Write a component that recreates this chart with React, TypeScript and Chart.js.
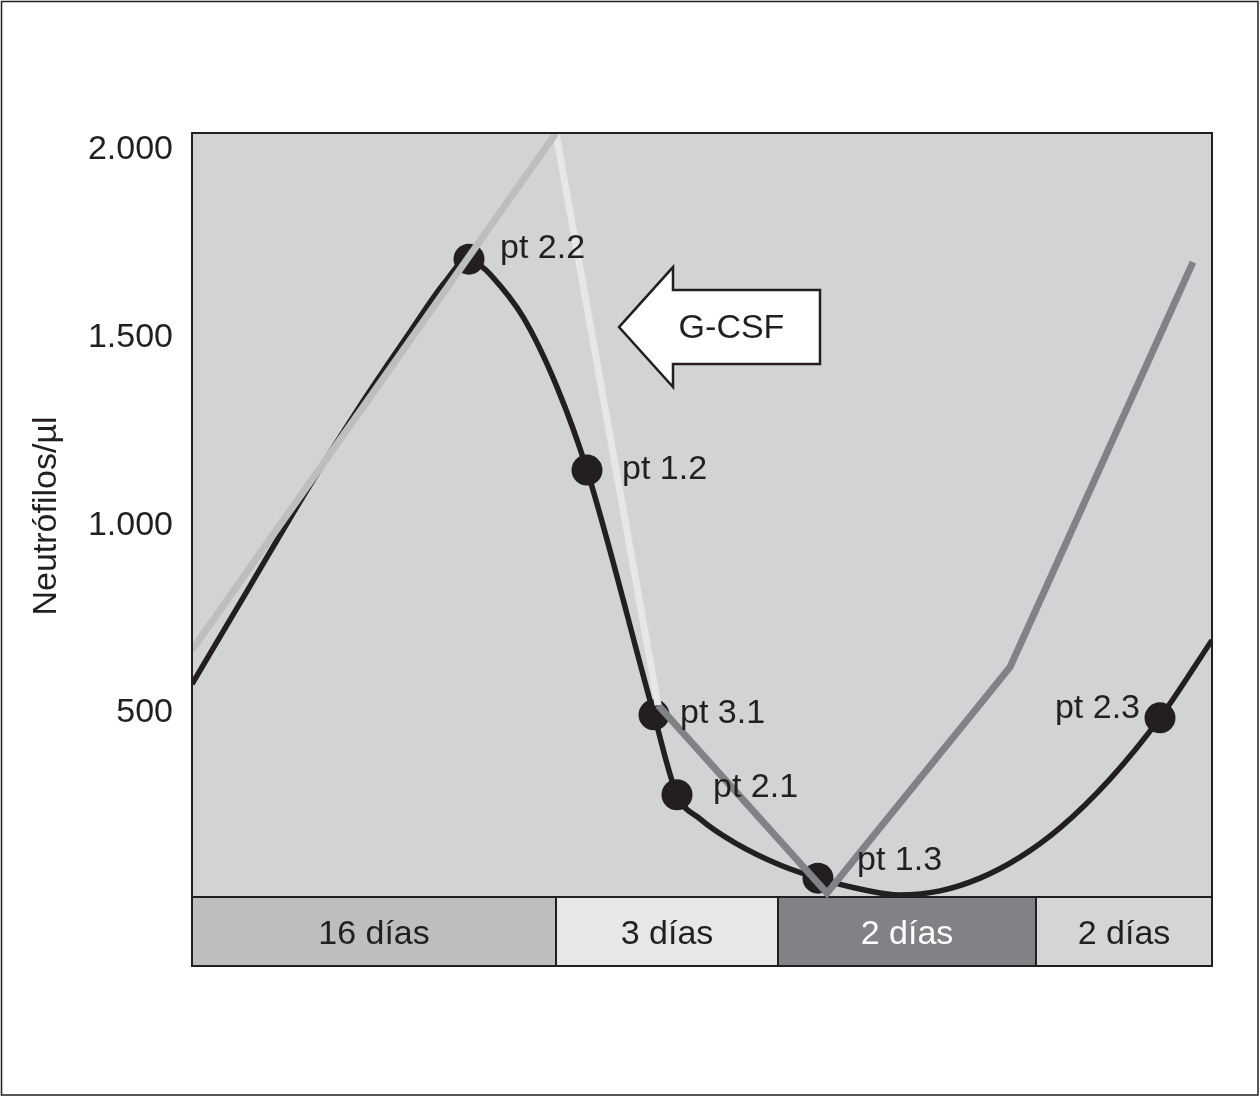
import React, { useEffect, useRef } from 'react';
import { Chart, registerables } from 'chart.js';

Chart.register(...registerables);

// ---- Data (x in arbitrary time units along the cycle, y in neutrophils/µl) ----
const yTicks = [500, 1000, 1500, 2000];

const curveX = [0, 5.8, 11.5, 16.8, 21.8, 25.3, 27.7, 28.8, 29.8, 33.1, 36.5, 39.5, 46.2, 48.5, 50.8, 54.3, 58.8, 62.6, 66.8, 70.8, 74.8, 78.8, 82.8, 86.8, 91.8, 96.8, 102];
const curveY = [577, 838, 1094, 1318, 1515, 1648, 1712, 1693, 1669, 1555, 1368, 1147, 495, 282, 218, 154, 95, 60, 31, 15, 26, 60, 116, 194, 324, 487, 694];

const phase1X = [0, 36.4];
const phase1Y = [668, 2045];
const phase2X = [36.4, 46.6];
const phase2Y = [2045, 521];
const phase3X = [46.6, 63.5, 81.8, 100.1];
const phase3Y = [521, 20, 622, 1701];

const pointLabels = ['pt 2.2', 'pt 1.2', 'pt 3.1', 'pt 2.1', 'pt 1.3', 'pt 2.3'];
const pointX = [27.7, 39.5, 46.2, 48.5, 62.6, 96.8];
const pointY = [1709, 1147, 495, 282, 60, 487];

const phaseLabels = ['16 días', '3 días', '2 días', '2 días'];
const phaseStart = [0, 36.4, 58.6, 84.4];
const phaseEnd = [36.4, 58.6, 84.4, 102];

const arrowLabel = 'G-CSF';
const arrowTipX = 42.7;
const arrowHeadX = 48.1;
const arrowEndX = 62.8;
const arrowY = 1528;

const Y_MIN = -174;
const Y_MAX = 2045;
const BASELINE = 10;
const X_MIN = 0;
const X_MAX = 102;

// ---- Styles ----
const FONT = '"Liberation Sans", Arial, Helvetica, sans-serif';
const FONT_SIZE = 34;
const INK = '#231f20';
const PLOT_BG = '#d1d3d4';
const bandColors = ['#bcbec0', '#e6e7e8', '#808285', '#d4d5d7'];
const bandText = [INK, INK, '#ffffff', INK];
const labelOffsets: [number, number, CanvasTextAlign][] = [
  [31, -11, 'left'],
  [35, 0, 'left'],
  [26, -1, 'left'],
  [36, -7, 'left'],
  [39, -18, 'left'],
  [-20, -9, 'right'],
];

const toXY = (xs: number[], ys: number[]) => xs.map((x, i) => ({ x, y: ys[i] }));
const fmt = (v: number) => String(v).replace(/\B(?=(\d{3})+(?!\d))/g, '.');

const decorPlugin = {
  id: 'decor',
  beforeDatasetsDraw(chart: any) {
    const { ctx, chartArea: ca, scales } = chart;
    const x = scales.x;
    const y = scales.y;
    const yb = y.getPixelForValue(BASELINE);
    ctx.save();
    ctx.fillStyle = PLOT_BG;
    ctx.fillRect(ca.left, ca.top, ca.right - ca.left, yb - ca.top);
    // time band
    ctx.font = `${FONT_SIZE}px ${FONT}`;
    ctx.textAlign = 'center';
    ctx.textBaseline = 'middle';
    for (let i = 0; i < phaseLabels.length; i++) {
      const x0 = x.getPixelForValue(phaseStart[i]);
      const x1 = x.getPixelForValue(phaseEnd[i]);
      ctx.fillStyle = bandColors[i];
      ctx.fillRect(x0, yb, x1 - x0, ca.bottom - yb);
      ctx.fillStyle = bandText[i];
      ctx.fillText(phaseLabels[i], (x0 + x1) / 2, (yb + ca.bottom) / 2 + 3);
    }
    ctx.strokeStyle = INK;
    ctx.lineWidth = 2;
    ctx.beginPath();
    ctx.moveTo(ca.left, yb);
    ctx.lineTo(ca.right, yb);
    for (let i = 1; i < phaseStart.length; i++) {
      const px = Math.round(x.getPixelForValue(phaseStart[i]));
      ctx.moveTo(px, yb);
      ctx.lineTo(px, ca.bottom);
    }
    ctx.stroke();
    ctx.restore();
  },
  afterDatasetsDraw(chart: any) {
    const { ctx, chartArea: ca, scales } = chart;
    const x = scales.x;
    const y = scales.y;
    ctx.save();
    // frame
    ctx.strokeStyle = INK;
    ctx.lineWidth = 2;
    ctx.strokeRect(ca.left, ca.top, ca.right - ca.left, ca.bottom - ca.top);
    // point labels
    ctx.font = `${FONT_SIZE}px ${FONT}`;
    ctx.fillStyle = INK;
    ctx.textBaseline = 'middle';
    pointLabels.forEach((t, i) => {
      const [dx, dy, al] = labelOffsets[i];
      ctx.textAlign = al;
      ctx.fillText(t, x.getPixelForValue(pointX[i]) + dx, y.getPixelForValue(pointY[i]) + dy);
    });
    // G-CSF arrow
    const tipX = x.getPixelForValue(arrowTipX);
    const headX = x.getPixelForValue(arrowHeadX);
    const endX = x.getPixelForValue(arrowEndX);
    const cy = y.getPixelForValue(arrowY);
    const headH = 60;
    const bodyH = 37;
    ctx.beginPath();
    ctx.moveTo(tipX, cy);
    ctx.lineTo(headX, cy - headH);
    ctx.lineTo(headX, cy - bodyH);
    ctx.lineTo(endX, cy - bodyH);
    ctx.lineTo(endX, cy + bodyH);
    ctx.lineTo(headX, cy + bodyH);
    ctx.lineTo(headX, cy + headH);
    ctx.closePath();
    ctx.fillStyle = '#ffffff';
    ctx.fill();
    ctx.lineWidth = 2.5;
    ctx.strokeStyle = INK;
    ctx.stroke();
    ctx.fillStyle = INK;
    ctx.textAlign = 'center';
    ctx.fillText(arrowLabel, (headX + endX) / 2 - 15, cy + 2);
    ctx.restore();
  },
  afterDraw(chart: any) {
    const { ctx, width, height } = chart;
    ctx.save();
    // y-axis title
    ctx.translate(47, 516);
    ctx.rotate(-Math.PI / 2);
    ctx.font = `${FONT_SIZE}px ${FONT}`;
    ctx.fillStyle = INK;
    ctx.textAlign = 'center';
    ctx.textBaseline = 'middle';
    ctx.fillText('Neutrófilos/µl', 0, 0);
    ctx.restore();
    ctx.save();
    ctx.strokeStyle = INK;
    ctx.lineWidth = 1.5;
    ctx.strokeRect(1.5, 1.5, width - 3.5, height - 3.5);
    ctx.restore();
  },
};

export default function App() {
  const ref = useRef<HTMLCanvasElement | null>(null);
  useEffect(() => {
    document.body.style.margin = '0';
    if (!ref.current) return;
    const chart = new Chart(ref.current, {
      type: 'scatter',
      data: {
        datasets: [
          {
            data: toXY(phase1X, phase1Y),
            showLine: true,
            borderColor: '#bcbec0',
            borderWidth: 7,
            pointRadius: 0,
            tension: 0,
          },
          {
            data: toXY(phase2X, phase2Y),
            showLine: true,
            borderColor: '#e6e7e8',
            borderWidth: 7,
            pointRadius: 0,
            tension: 0,
          },
          {
            data: toXY(phase3X, phase3Y),
            showLine: true,
            borderColor: '#808285',
            borderWidth: 7,
            pointRadius: 0,
            tension: 0,
          },
          {
            data: toXY(curveX, curveY),
            showLine: true,
            borderColor: INK,
            borderWidth: 5.5,
            pointRadius: 0,
            cubicInterpolationMode: 'monotone',
            borderJoinStyle: 'round',
          },
          {
            data: toXY(pointX, pointY),
            showLine: false,
            pointRadius: 15.5,
            pointBackgroundColor: INK,
            pointBorderWidth: 0,
            backgroundColor: INK,
          },
        ],
      },
      options: {
        animation: false,
        responsive: false,
        devicePixelRatio: 1,
        layout: { padding: { left: 0, right: 48, top: 133, bottom: 131 } },
        plugins: { legend: { display: false }, tooltip: { enabled: false } },
        events: [],
        scales: {
          x: { type: 'linear', min: X_MIN, max: X_MAX, display: false },
          y: {
            type: 'linear',
            min: Y_MIN,
            max: Y_MAX,
            afterBuildTicks: (s: any) => {
              s.ticks = yTicks.map((v) => ({ value: v }));
            },
            afterFit: (s: any) => {
              s.width = 192;
            },
            grid: { display: false, drawTicks: false },
            border: { display: false },
            ticks: {
              padding: 19,
              color: INK,
              font: { family: FONT, size: FONT_SIZE },
              callback: (v: any) => fmt(Number(v)),
            },
          },
        },
      },
      plugins: [decorPlugin],
    } as any);
    return () => chart.destroy();
  }, []);
  return (
    <div style={{ width: 1260, height: 1097, background: '#ffffff' }}>
      <canvas ref={ref} width={1260} height={1097} style={{ display: 'block' }} />
    </div>
  );
}
